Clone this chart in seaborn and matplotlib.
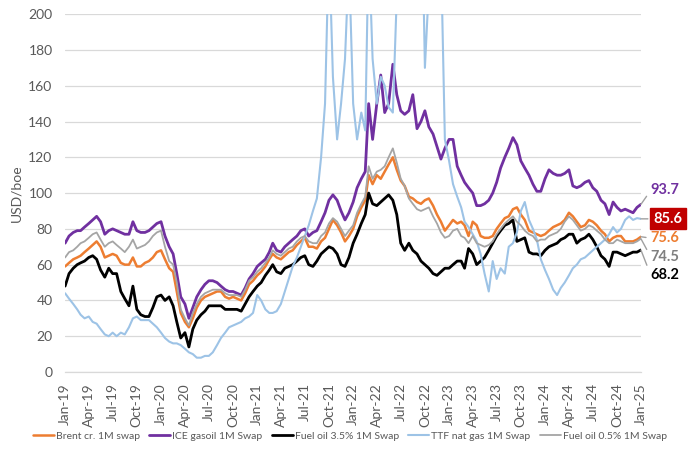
import matplotlib
matplotlib.use("Agg")
import matplotlib.pyplot as plt
import pandas as pd
import seaborn as sns

# ---------------- data (semi-monthly readings, USD/boe) ----------------
dates = [pd.Timestamp(y, m, d) for y in range(2019, 2025) for m in range(1, 13) for d in (1, 16)]
dates.append(pd.Timestamp(2024, 12, 31))

brent = [
    59, 61, 63, 64, 65, 67, 69, 71, 73, 70, 64, 65, 66, 65, 61, 60, 60, 64, 59, 59, 61, 62, 64, 67,
    68, 63, 58, 56, 45, 33, 28, 25, 30, 36, 40, 42, 43, 44, 45, 45, 42, 41, 42, 41, 40, 44, 49, 51,
    54, 56, 59, 63, 66, 64, 63, 65, 67, 68, 71, 73, 75, 70, 70, 69, 73, 75, 80, 85, 82, 78, 73, 76,
    80, 87, 92, 96, 110, 105, 110, 108, 112, 116, 120, 113, 107, 104, 98, 97, 95, 94, 96, 97, 93, 88, 84, 79,
    82, 85, 83, 84, 82, 76, 84, 82, 76, 75, 75, 76, 80, 83, 86, 87, 91, 92, 88, 85, 79, 78, 77, 76,
    77, 79, 81, 82, 83, 85, 89, 87, 84, 81, 82, 85, 84, 82, 79, 77, 73, 75, 76, 76, 73, 73, 73, 74,
    75.6]

gasoil = [
    72, 76, 78, 79, 79, 81, 83, 85, 87, 84, 77, 79, 80, 79, 78, 77, 77, 84, 79, 78, 78, 79, 81, 83,
    84, 76, 70, 66, 55, 42, 38, 30, 36, 42, 46, 49, 51, 51, 50, 48, 46, 45, 45, 44, 43, 47, 52, 55,
    59, 61, 63, 67, 72, 68, 67, 70, 72, 74, 76, 79, 80, 76, 78, 79, 84, 89, 96, 99, 96, 90, 85, 89,
    95, 103, 108, 112, 150, 130, 150, 166, 145, 150, 172, 155, 146, 144, 146, 155, 136, 140, 146, 137, 133, 126, 119, 125,
    130, 130, 115, 110, 106, 103, 100, 93, 93, 94, 96, 100, 106, 114, 120, 125, 131, 127, 118, 114, 110, 105, 101, 101,
    108, 113, 111, 110, 110, 111, 113, 104, 103, 104, 106, 107, 103, 101, 96, 94, 88, 95, 92, 90, 91, 90, 89, 92,
    93.7]

fo35 = [
    48, 55, 58, 60, 61, 62, 64, 65, 63, 57, 53, 58, 55, 55, 45, 41, 37, 48, 35, 32, 31, 31, 36, 42,
    43, 40, 42, 37, 28, 19, 22, 14, 24, 29, 32, 34, 37, 37, 37, 37, 35, 35, 35, 35, 34, 38, 42, 45,
    48, 50, 54, 57, 60, 56, 55, 58, 59, 60, 62, 64, 65, 60, 59, 62, 66, 68, 70, 69, 66, 60, 59, 64,
    72, 77, 83, 88, 100, 94, 93, 95, 97, 99, 96, 88, 72, 68, 72, 68, 66, 62, 60, 58, 55, 54, 56, 58,
    58, 60, 62, 62, 58, 69, 66, 60, 62, 64, 68, 72, 76, 79, 82, 83, 85, 73, 74, 75, 67, 66, 66, 65,
    68, 70, 71, 72, 74, 75, 77, 77, 72, 74, 75, 77, 74, 70, 65, 63, 59, 67, 67, 66, 65, 66, 67, 67,
    68.2]

ttf = [
    44, 41, 38, 35, 32, 30, 31, 28, 27, 24, 21, 20, 22, 20, 22, 21, 25, 30, 31, 29, 29, 29, 27, 25,
    22, 19, 17, 16, 16, 15, 13, 11, 10, 8, 8, 9, 9, 11, 15, 19, 22, 25, 26, 27, 28, 30, 31, 33,
    43, 40, 35, 33, 33, 34, 38, 45, 52, 59, 64, 70, 76, 82, 90, 97, 120, 150, 240, 165, 130, 150, 175, 230,
    150, 130, 145, 135, 240, 175, 150, 165, 160, 148, 145, 210, 270, 300, 330, 380, 400, 290, 170, 215, 205, 210, 235, 130,
    118, 105, 98, 92, 84, 81, 77, 73, 66, 55, 45, 62, 52, 58, 55, 70, 72, 78, 90, 95, 85, 80, 74, 63,
    57, 52, 46, 43, 47, 50, 54, 58, 60, 63, 64, 66, 68, 70, 72, 74, 77, 81, 78, 80, 85, 87, 85, 86,
    85.6]

fo05 = [
    64, 67, 68, 70, 72, 73, 75, 77, 78, 74, 70, 72, 73, 71, 69, 67, 70, 74, 69, 70, 71, 73, 76, 78,
    79, 70, 62, 60, 50, 35, 30, 26, 33, 38, 42, 44, 45, 46, 46, 46, 44, 43, 43, 43, 42, 46, 51, 53,
    56, 58, 61, 64, 68, 66, 65, 67, 69, 70, 73, 75, 76, 73, 72, 72, 76, 78, 83, 86, 84, 80, 76, 79,
    82, 89, 94, 98, 115, 108, 112, 113, 115, 120, 125, 117, 108, 104, 97, 94, 91, 90, 91, 92, 87, 83, 78, 75,
    76, 79, 80, 76, 75, 72, 76, 72, 71, 70, 71, 73, 77, 80, 83, 85, 87, 84, 82, 79, 77, 76, 73, 74,
    74, 76, 77, 78, 80, 84, 87, 85, 82, 79, 80, 82, 81, 79, 77, 74, 72, 72, 74, 73, 72, 72, 72, 73,
    74.5]

series_names = ["Brent cr. 1M swap", "ICE gasoil 1M Swap", "Fuel oil 3.5% 1M Swap",
                "TTF nat gas 1M Swap", "Fuel oil 0.5% 1M Swap"]
series_values = [brent, gasoil, fo35, ttf, fo05]
end_labels = ["75.6", "93.7", "68.2", "85.6", "74.5"]

colors = ["#ED7D31", "#7030A0", "#000000", "#9DC3E6", "#A5A5A5"]
widths = [1.8, 2.0, 2.0, 1.5, 1.3]

# ---------------- figure ----------------
sns.set_theme(style="white")
plt.rcParams["font.family"] = ["Lato", "DejaVu Sans"]

fig = plt.figure(figsize=(7.0, 4.57), dpi=100)
ax = fig.add_axes([0.093, 0.186, 0.823, 0.783])

for name, vals, col, lw in zip(series_names, series_values, colors, widths):
    df = pd.DataFrame({"date": dates, "value": vals})
    sns.lineplot(data=df, x="date", y="value", color=col, linewidth=lw,
                 label=name, ax=ax, legend=False)

ax.set_ylim(0, 200)
ax.set_yticks(range(0, 201, 20))
ax.set_xlim(pd.Timestamp(2019, 1, 1), pd.Timestamp(2025, 1, 1))
qticks = pd.date_range("2019-01-01", "2025-01-01", freq="QS")
ax.set_xticks(qticks)
ax.set_xticklabels([d.strftime("%b-%y") for d in qticks], rotation=90)

ax.yaxis.grid(True, color="#d9d9d9", linewidth=0.9)
ax.xaxis.grid(False)
ax.set_axisbelow(True)
for s in ("left", "top", "right"):
    ax.spines[s].set_visible(False)
ax.spines["bottom"].set_color("#d9d9d9")
ax.spines["bottom"].set_linewidth(0.9)

ax.tick_params(axis="x", direction="out", length=5, width=0.9, color="#d9d9d9",
               labelsize=10, labelcolor="#595959", pad=3)
ax.tick_params(axis="y", length=0, labelsize=10, labelcolor="#595959", pad=9)
ax.set_xlabel("")
ax.set_ylabel("USD/boe", fontsize=10, color="#595959", labelpad=4)

# ---------------- end labels ----------------
label_cfg = {
    "93.7": dict(dy=10, color="#7030A0", box=False),
    "85.6": dict(dy=0, color="white", box=True),
    "75.6": dict(dy=-1, color="#ED7D31", box=False),
    "74.5": dict(dy=-13, color="#7F7F7F", box=False),
    "68.2": dict(dy=-18, color="#000000", box=False),
}
for vals, lab in zip(series_values, end_labels):
    cfg = label_cfg[lab]
    kw = {}
    dx = 7
    if cfg["box"]:
        kw["bbox"] = dict(boxstyle="square,pad=0.25", fc="#C00000", ec="#C00000")
        dx = 9
    ann = ax.annotate(lab, xy=(dates[-1], vals[-1]), xytext=(dx, cfg["dy"]),
                      textcoords="offset points", ha="left", va="center",
                      fontsize=10.5, fontweight="bold", color=cfg["color"],
                      annotation_clip=False,
                      arrowprops=dict(arrowstyle="-", color="#A0A0A0", lw=1.0,
                                      shrinkA=1, shrinkB=0, relpos=(0, 0.5)),
                      **kw)
    ann.set_clip_on(False)
    ann.arrow_patch.set_clip_on(False)

# ---------------- legend ----------------
handles, labels = ax.get_legend_handles_labels()
fig.legend(handles, labels, loc="center", bbox_to_anchor=(0.5, 0.045), ncol=5,
           frameon=False, fontsize=7.5, handlelength=2.0, handletextpad=0.2,
           columnspacing=0.9, labelcolor="#595959")

fig.savefig("out.png", dpi=100)
